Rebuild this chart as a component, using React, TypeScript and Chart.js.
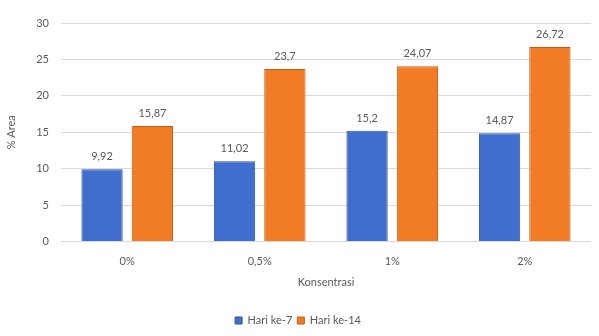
import React, { useEffect, useRef } from "react";
import { Chart, registerables } from "chart.js";

Chart.register(...registerables);

const categories = ["0%", "0,5%", "1%", "2%"];
const hari7 = [9.92, 11.02, 15.2, 14.87];
const hari14 = [15.87, 23.7, 24.07, 26.72];
const labels7 = ["9,92", "11,02", "15,2", "14,87"];
const labels14 = ["15,87", "23,7", "24,07", "26,72"];
const yTicks = [0, 5, 10, 15, 20, 25, 30];

const FONT = "Lato, 'Open Sans', sans-serif";
const TXT = "#595959";

const valueLabels = {
  id: "valueLabels",
  afterDatasetsDraw(chart: any) {
    const ctx = chart.ctx;
    ctx.save();
    ctx.font = `11px ${FONT}`;
    ctx.fillStyle = TXT;
    ctx.textAlign = "center";
    ctx.textBaseline = "bottom";
    const lbls = [labels7, labels14];
    chart.data.datasets.forEach((ds: any, di: number) => {
      const meta = chart.getDatasetMeta(di);
      meta.data.forEach((bar: any, i: number) => {
        ctx.fillText(lbls[di][i], bar.x, bar.y - 7);
      });
    });
    ctx.restore();
  },
};

export default function App() {
  const ref = useRef<HTMLCanvasElement>(null);
  useEffect(() => {
    const canvas = ref.current!;
    const chart = new Chart(canvas, {
      type: "bar",
      data: {
        labels: categories,
        datasets: [
          {
            label: "Hari ke-7",
            data: hari7,
            backgroundColor: "#3F6ECF",
            borderColor: "#2F5597",
            borderWidth: 1,
            categoryPercentage: 0.76,
            barPercentage: 0.82,
          },
          {
            label: "Hari ke-14",
            data: hari14,
            backgroundColor: "#F27C26",
            borderColor: "#C55A11",
            borderWidth: 1,
            categoryPercentage: 0.76,
            barPercentage: 0.82,
          },
        ],
      },
      options: {
        responsive: false,
        animation: false,
        layout: { padding: { left: 5, right: 8, top: 23, bottom: 0 } },
        plugins: {
          legend: {
            position: "bottom",
            labels: {
              boxWidth: 7,
              boxHeight: 7,
              padding: 5,
              color: TXT,
              font: { family: FONT, size: 11 },
              generateLabels: (c: any) =>
                c.data.datasets.map((ds: any, i: number) => ({
                  text: ds.label,
                  fillStyle: ds.backgroundColor,
                  strokeStyle: ds.borderColor,
                  lineWidth: 1,
                  fontColor: TXT,
                  datasetIndex: i,
                  hidden: false,
                })),
            },
          },
          tooltip: { enabled: false },
        },
        scales: {
          x: {
            grid: { display: false },
            border: { display: false },
            ticks: { color: TXT, font: { family: FONT, size: 11 }, padding: 5 },
            title: {
              display: true,
              text: "Konsentrasi",
              color: TXT,
              font: { family: FONT, size: 11 },
              padding: { top: 3, bottom: 21 },
            },
          },
          y: {
            min: 0,
            max: 30,
            afterBuildTicks: (axis: any) => {
              axis.ticks = yTicks.map((v) => ({ value: v }));
            },
            grid: { color: "#D9D9D9", lineWidth: 1, drawTicks: false },
            border: { display: false },
            ticks: { color: TXT, font: { family: FONT, size: 11 }, padding: 12 },
            title: {
              display: true,
              text: "% Area",
              color: TXT,
              font: { family: FONT, size: 11 },
              padding: { top: 0, bottom: 6 },
            },
          },
        },
      },
      plugins: [valueLabels],
    });
    return () => chart.destroy();
  }, []);
  return (
    <div style={{ position: "fixed", left: 0, top: 0, width: 599, height: 336, background: "#fff" }}>
      <canvas ref={ref} width={599} height={336} />
    </div>
  );
}
